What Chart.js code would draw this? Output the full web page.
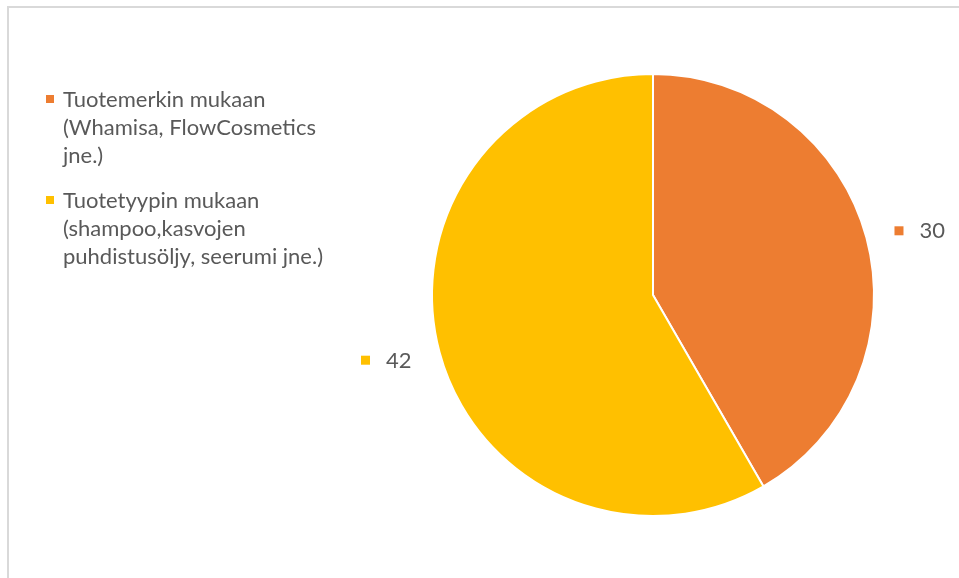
<!DOCTYPE html>
<html lang="fi">
<head>
    <meta charset="UTF-8">
    <title>Tuotteiden jaottelu</title>
    <script src="https://cdn.jsdelivr.net/npm/chart.js"></script>
    <style>
        html, body {
            margin: 0;
            padding: 0;
            background: #ffffff;
            overflow: hidden;
        }

        .kehys {
            position: absolute;
            left: 7px;
            top: 6px;
            width: 960px;
            height: 580px;
            border-top: 2px solid #d9d9d9;
            border-left: 2px solid #d9d9d9;
        }

        .kaavio {
            position: absolute;
            left: 0;
            top: 0;
            width: 959px;
            height: 578px;
        }
    </style>
</head>
<body>
    <div class="kehys"></div>
    <div class="kaavio">
        <canvas id="kaavio"></canvas>
    </div>

    <script>
        // Jaottelutavat ja vastausten määrät
        const luokat = [
            'Tuotemerkin mukaan (Whamisa, FlowCosmetics jne.)',
            'Tuotetyypin mukaan (shampoo,kasvojen puhdistusöljy, seerumi jne.)'
        ];
        // Selitteen rivitys
        const selitteenRivit = [
            ['Tuotemerkin mukaan', '(Whamisa, FlowCosmetics', 'jne.)'],
            ['Tuotetyypin mukaan', '(shampoo,kasvojen', 'puhdistusöljy, seerumi jne.)']
        ];
        const vastaukset = [30, 42];
        const varit = ['#ED7D31', '#FFC000'];

        const tekstinVari = '#595959';
        const fontti = '22px Lato, "Open Sans", sans-serif';

        // Oma selite vasemmalle ja arvot siivujen ulkopuolelle
        const selitePlugin = {
            id: 'selite',
            afterDraw(chart) {
                const ctx = chart.ctx;
                ctx.save();
                ctx.font = fontti;
                ctx.textBaseline = 'middle';
                ctx.textAlign = 'left';

                let y = 99;
                selitteenRivit.forEach((rivit, i) => {
                    ctx.fillStyle = varit[i];
                    ctx.fillRect(46, y - 4, 8, 8);
                    ctx.fillStyle = tekstinVari;
                    rivit.forEach((rivi, j) => {
                        ctx.fillText(rivi, 63, y + 1 + j * 28);
                    });
                    y += (rivit.length - 1) * 28 + 45;
                });

                // Arvolaatikon lähin reuna kiinnitetään siivun keskikulmaan
                const meta = chart.getDatasetMeta(0);
                meta.data.forEach((kaari, i) => {
                    const p = kaari.getProps(['x', 'y', 'startAngle', 'endAngle', 'outerRadius'], true);
                    const kulma = (p.startAngle + p.endAngle) / 2;
                    const etaisyys = p.outerRadius + 29;
                    const ax = p.x + Math.cos(kulma) * etaisyys;
                    const ay = p.y + Math.sin(kulma) * etaisyys;
                    const teksti = String(vastaukset[i]);
                    const leveys = 9 + 16 + ctx.measureText(teksti).width;
                    const alku = Math.cos(kulma) >= 0 ? ax : ax - leveys;
                    ctx.fillStyle = varit[i];
                    ctx.fillRect(alku, ay - 4, 9, 9);
                    ctx.fillStyle = tekstinVari;
                    ctx.fillText(teksti, alku + 25, ay + 1);
                });
                ctx.restore();
            }
        };

        const ctx = document.getElementById('kaavio').getContext('2d');
        new Chart(ctx, {
            type: 'pie',
            data: {
                labels: luokat,
                datasets: [{
                    data: vastaukset,
                    backgroundColor: varit,
                    borderColor: '#ffffff',
                    borderWidth: 2
                }]
            },
            options: {
                responsive: true,
                maintainAspectRatio: false,
                animation: false,
                layout: {
                    padding: { left: 431, right: 84, top: 73, bottom: 61 }
                },
                plugins: {
                    legend: { display: false },
                    tooltip: { enabled: false }
                }
            },
            plugins: [selitePlugin]
        });
    </script>
</body>
</html>
